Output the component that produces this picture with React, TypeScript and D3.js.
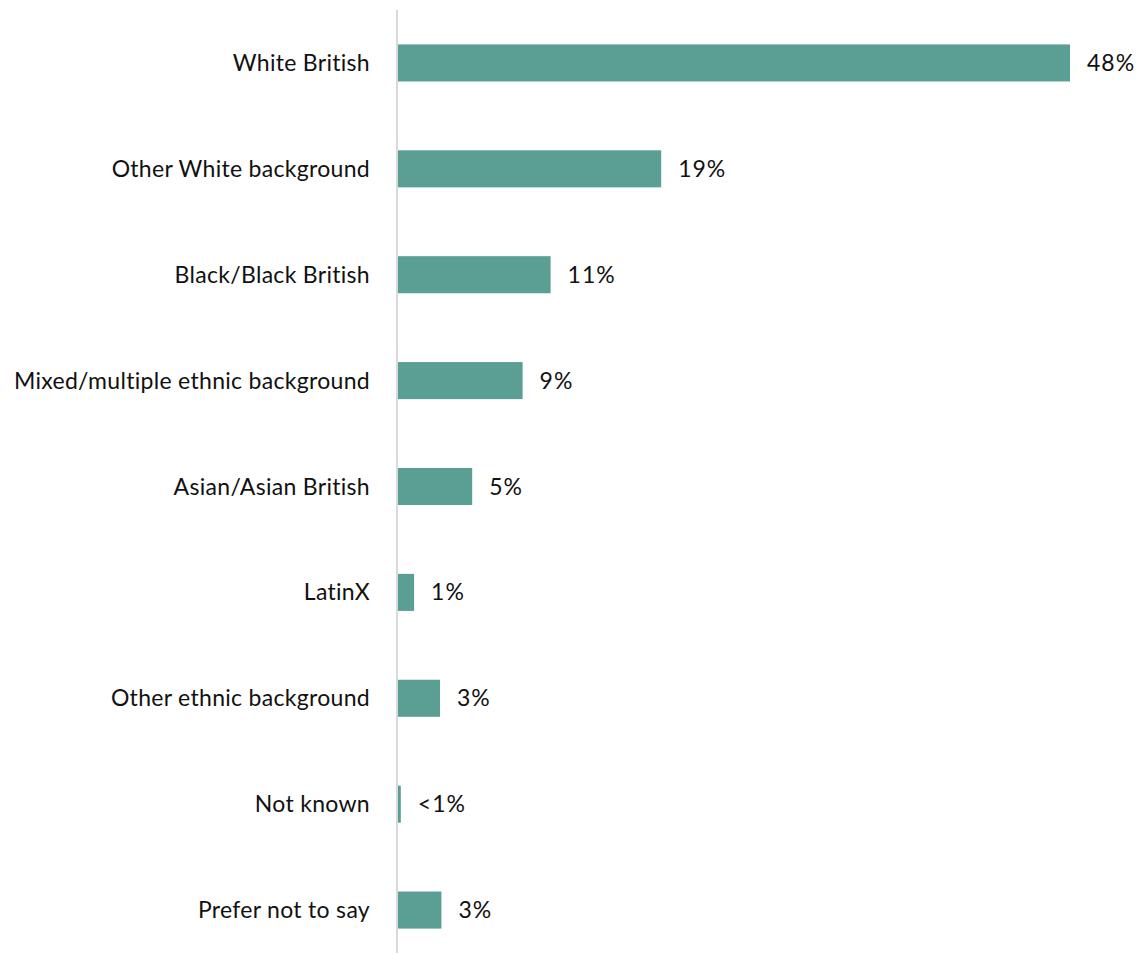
import React from "react";
import * as d3 from "d3";

const categories = [
  "White British",
  "Other White background",
  "Black/Black British",
  "Mixed/multiple ethnic background",
  "Asian/Asian British",
  "LatinX",
  "Other ethnic background",
  "Not known",
  "Prefer not to say",
];
const values = [48, 18.8, 10.9, 8.9, 5.3, 1.15, 3.0, 0.2, 3.1];
const valueLabels = ["48%", "19%", "11%", "9%", "5%", "1%", "3%", "<1%", "3%"];

const W = 1143;
const H = 953;
const FONT = "Lato, 'Open Sans', sans-serif";

export default function App() {
  const x = d3.scaleLinear().domain([0, 48]).range([398, 1070]);
  const y = d3
    .scaleBand<string>()
    .domain(categories)
    .range([10, 963])
    .paddingInner(0.65)
    .paddingOuter(0.325);
  const bw = y.bandwidth();
  return (
    <svg
      width={W}
      height={H}
      style={{ position: "absolute", left: 0, top: 0, background: "#fff" }}
      fontFamily={FONT}
    >
      {categories.map((c, i) => {
        const yy = y(c)!;
        const xe = x(values[i]);
        return (
          <g key={c}>
            <rect x={x(0)} y={yy} width={xe - x(0)} height={bw} fill="#5A9E94" />
            <text
              x={370}
              y={yy + bw / 2}
              dy="0.35em"
              textAnchor="end"
              fontSize={23}
              letterSpacing={0.3}
              fill="#111"
            >
              {c}
            </text>
            <text
              x={xe + 17}
              y={yy + bw / 2}
              dy="0.35em"
              textAnchor="start"
              fontSize={23}
              letterSpacing={1}
              fill="#111"
            >
              {valueLabels[i]}
            </text>
          </g>
        );
      })}
      <line x1={397} x2={397} y1={10} y2={H} stroke="#d9d9d9" strokeWidth={2} />
    </svg>
  );
}
